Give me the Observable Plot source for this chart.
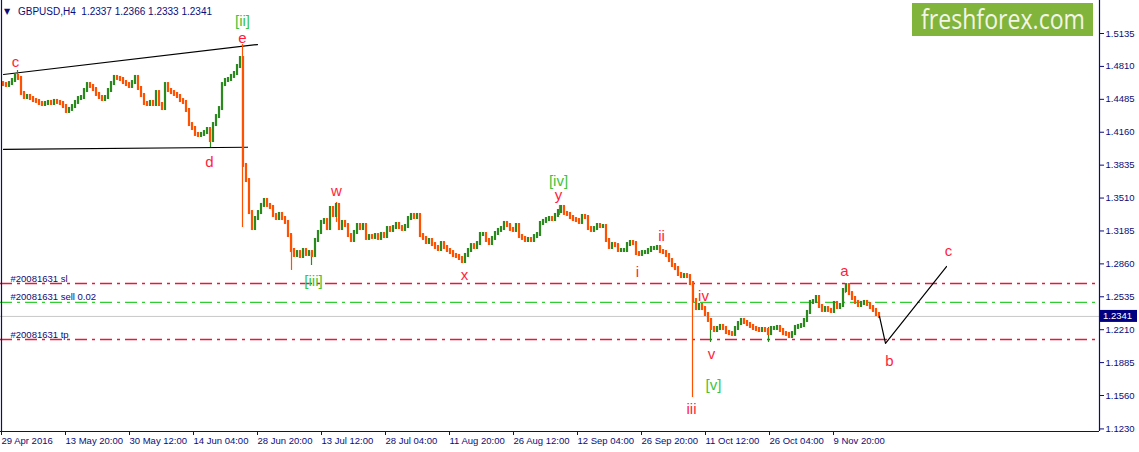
<!DOCTYPE html>
<html><head><meta charset="utf-8">
<script src="https://cdn.jsdelivr.net/npm/d3@7"></script>
<script src="https://cdn.jsdelivr.net/npm/@observablehq/plot@0.6"></script>
<style>
body{margin:0;background:#fff;}
#chart{position:relative;width:1139px;height:452px;overflow:hidden;}
</style></head><body><div id="chart"></div>
<script>
// ---- data ----
const symbol = "GBPUSD,H4";
const ohlcHeader = [1.2337, 1.2366, 1.2333, 1.2341];
const firstBar = 1, barStep = 3;           // each value = one slot of 3 H4 bars
const firstOpen = 1.4641;
const closes = [
 1.4631,1.4622,1.4641,1.4671,1.4711,1.4691,1.4543,1.4503,1.4513,1.4493,1.4473,1.4464,1.4444,1.4434,1.4444,1.4454,1.4444,1.4464,1.4454,1.4444,
 1.4414,1.4365,1.4385,1.4414,1.4454,1.4493,1.4503,1.4572,1.4631,1.4612,1.4582,1.4533,1.4503,1.4483,1.4503,1.4572,1.4641,1.4701,1.4691,1.4681,
 1.4651,1.4631,1.4612,1.4651,1.4701,1.4592,1.4523,1.4444,1.4434,1.4454,1.4434,1.4552,1.4434,1.4394,1.4631,1.4572,1.4552,1.4533,1.4513,1.4473,
 1.4454,1.4375,1.4236,1.4197,1.4138,1.4128,1.4138,1.4157,1.4187,1.4078,1.4236,1.4315,1.4394,1.4631,1.4671,1.4681,1.4711,1.4740,1.4809,1.4888,
 1.3832,1.3683,1.3367,
 1.3209,1.3308,1.3367,1.3437,1.3486,1.3437,1.3417,1.3338,1.3308,1.3348,1.3308,1.3269,1.3140,1.2992,1.2943,1.2972,1.2933,1.2992,1.2953,1.2972,
 1.2943,1.3091,1.3170,1.3269,1.3288,1.3209,1.3407,1.3338,1.3437,1.3209,1.3269,1.3239,1.3140,1.3091,1.3170,1.3239,1.3209,1.3239,1.3111,1.3130,
 1.3121,1.3140,1.3111,1.3150,1.3130,1.3209,1.3190,1.3219,1.3249,1.3219,1.3200,1.3229,1.3308,1.3338,1.3318,1.3338,1.3140,1.3111,1.3071,1.3091,
 1.3051,1.3022,1.3002,1.3061,1.3022,1.2992,1.2972,1.2943,1.2933,1.2913,1.2883,1.2943,1.2992,1.3041,1.3022,1.3061,1.3150,1.3150,1.3091,1.3061,
 1.3111,1.3160,1.3190,1.3209,1.3259,1.3239,1.3200,1.3190,1.3239,1.3130,1.3111,1.3091,1.3101,1.3091,1.3130,1.3150,1.3259,1.3279,1.3298,1.3308,
 1.3298,1.3338,1.3377,1.3417,1.3358,1.3348,1.3318,1.3298,1.3288,1.3269,1.3328,1.3318,1.3209,1.3190,1.3209,1.3239,1.3229,1.3229,1.3091,1.3022,
 1.3051,1.3041,1.2992,1.2992,1.2992,1.3051,1.3071,1.3061,1.2962,1.2953,1.2972,1.2972,1.2992,1.3012,1.3012,1.3022,1.2982,1.2972,1.2943,1.2893,
 1.2844,1.2814,1.2755,1.2735,1.2745,1.2735,1.2666,1.2498,
 1.2419,1.2449,1.2419,1.2360,1.2301,1.2222,1.2202,1.2222,1.2242,1.2222,1.2182,1.2172,1.2163,1.2222,1.2271,1.2301,1.2281,1.2261,1.2242,1.2222,
 1.2212,1.2202,1.2212,1.2202,1.2172,1.2222,1.2222,1.2232,1.2202,1.2172,1.2163,1.2143,1.2172,1.2232,1.2242,1.2251,1.2301,1.2380,1.2479,1.2488,
 1.2528,1.2439,1.2400,1.2419,1.2400,1.2390,1.2469,1.2429,1.2449,1.2597,1.2646,1.2567,1.2518,1.2479,1.2449,1.2469,1.2479,1.2459,1.2429,1.2400,
 1.2360,1.2341
];
// notable wicks (bar index, high, low, up-bar?)
const wickBars  = [15, 208, 240, 289, 309, 334, 557, 690, 708, 766, 843];
const wickHighs = [1.4770, 1.4187, 1.5026, 1.3140, 1.2972, 1.3466, 1.3437, 1.2666, 1.2281, 1.2232, 1.2666];
const wickLows  = [1.4691, 1.4009, 1.3219, 1.2795, 1.2844, 1.3269, 1.3338, 1.1540, 1.2084, 1.2084, 1.2567];
const wickUp    = [true, true, false, false, true, false, false, false, true, true, false];

const yTicks = [1.1230,1.1560,1.1885,1.2210,1.2535,1.2860,1.3185,1.3510,1.3835,1.4160,1.4485,1.4810,1.5135];
const xTickBars = [-2,62,126,190,254,318,382,446,510,574,638,702,766,830];
const xTickLabels = ["29 Apr 2016","13 May 20:00","30 May 12:00","14 Jun 04:00","28 Jun 20:00","13 Jul 12:00","28 Jul 04:00",
  "11 Aug 20:00","26 Aug 12:00","12 Sep 04:00","26 Sep 20:00","11 Oct 12:00","26 Oct 04:00","9 Nov 20:00"];

const levelNames  = ["#20081631 sl", "#20081631 sell 0.02", "#20081631 tp"];
const levelPrices = [1.2666, 1.2479, 1.2113];
const levelKinds  = ["stop", "entry", "stop"];
const currentPrice = 1.2341;

const upperTrendBars = [1, 255],  upperTrendPrices = [1.4730, 1.5026];
const lowerTrendBars = [1, 245],  lowerTrendPrices = [1.3990, 1.4012];
const pathBars = [877, 883, 944], pathPrices = [1.2341, 1.2074, 1.2834];

const waveTexts  = ["c","[ii]","e","d","w","[iii]","x","[iv]","y","ii","i","iv","v","[v]","iii","a","b","c"];
const waveBars   = [13, 240, 240, 207, 334, 311, 462, 556, 556, 659, 635, 701, 709, 711, 689, 842, 887, 946];
const wavePrices = [1.4809,1.5214,1.5046,1.3812,1.3535,1.2637,1.2696,1.3634,1.3486,1.3081,1.2735,1.2498,1.1916,1.1619,1.1382,1.2745,1.1847,1.2933];
const waveMajor  = [false,true,false,false,false,true,false,true,false,false,false,false,false,true,false,false,false,false];

// ---- derived tables ----
const bars = closes.map((c, i) => ({b: firstBar + barStep * i, o: i ? closes[i - 1] : firstOpen, c}));
const wicks = wickBars.map((b, i) => ({b, hi: wickHighs[i], lo: wickLows[i], up: wickUp[i]}));
const levels = levelNames.map((name, i) => ({name, price: levelPrices[i], kind: levelKinds[i]}));
const waves = waveTexts.map((t, i) => ({t, b: waveBars[i], p: wavePrices[i], major: waveMajor[i]}));
const labelMap = new Map(xTickBars.map((b, i) => [b, xTickLabels[i]]));

const UP = "#2a8a1e", DOWN = "#ff5200", NAVY = "#0c0c78", RED = "#e8173f", LIME = "#32cd32";
const yMin = 1.12046, yMax = 1.5461, xMin = -2, xMax = 1097;
const F = "Liberation Sans, Arial, sans-serif";
const dash = "12,5,3,5";

const plot = Plot.plot({
  width: 1139, height: 452,
  marginLeft: 0, marginRight: 40, marginTop: 0, marginBottom: 21,
  style: {fontFamily: F, color: NAVY, background: "#fff", overflow: "visible"},
  x: {domain: [xMin, xMax], axis: null, label: null},
  y: {domain: [yMin, yMax], axis: null, label: null},
  marks: [
    // order levels
    Plot.ruleY([currentPrice], {stroke: "#c8c8c8", strokeWidth: 1}),
    Plot.ruleY(levels.filter(d => d.kind === "stop"), {y: "price", stroke: RED, strokeWidth: 1.3, strokeDasharray: dash}),
    Plot.ruleY(levels.filter(d => d.kind === "entry"), {y: "price", stroke: LIME, strokeWidth: 1.3, strokeDasharray: dash}),
    Plot.text(levels, {x: 8, y: "price", text: "name", textAnchor: "start", lineAnchor: "bottom", dy: -2, fill: NAVY, fontSize: 9.5}),
    // trend lines
    Plot.line(upperTrendBars, {x: d => d, y: (d, i) => upperTrendPrices[i], stroke: "#000", strokeWidth: 1.2}),
    Plot.line(lowerTrendBars, {x: d => d, y: (d, i) => lowerTrendPrices[i], stroke: "#000", strokeWidth: 1.2}),
    // wicks
    Plot.ruleX(wicks.filter(d => d.up), {x: "b", y1: "lo", y2: "hi", stroke: UP, strokeWidth: 1.2}),
    Plot.ruleX(wicks.filter(d => !d.up), {x: "b", y1: "lo", y2: "hi", stroke: DOWN, strokeWidth: 1.2}),
    // bars
    Plot.rect(bars.filter(d => d.c >= d.o), {x1: d => d.b - 1.1, x2: d => d.b + 1.1, y1: "o", y2: "c", fill: UP, insetTop: -2, insetBottom: -2}),
    Plot.rect(bars.filter(d => d.c < d.o), {x1: d => d.b - 1.1, x2: d => d.b + 1.1, y1: "o", y2: "c", fill: DOWN, insetTop: -2, insetBottom: -2}),
    // projected path
    Plot.line(pathBars, {x: d => d, y: (d, i) => pathPrices[i], stroke: "#000", strokeWidth: 1.2}),
    // wave labels
    Plot.text(waves.filter(d => d.major), {x: "b", y: "p", text: "t", lineAnchor: "bottom", fontSize: 15, fill: "#3cc43c"}),
    Plot.text(waves.filter(d => !d.major), {x: "b", y: "p", text: "t", lineAnchor: "bottom", fontSize: 15, fill: "#ff1e3c"}),
    // frame
    Plot.ruleX([xMin + 1], {y1: yMin, y2: yMax, stroke: NAVY, strokeWidth: 1.2}),
    Plot.ruleX([xMax], {y1: yMin, y2: yMax, stroke: NAVY, strokeWidth: 1.2}),
    Plot.ruleY([yMin], {x1: xMin, x2: xMax, stroke: NAVY, strokeWidth: 1.2}),
    // axes
    Plot.axisY(yTicks, {anchor: "right", label: null, tickFormat: d => d.toFixed(4), tickSize: 4, tickPadding: 2, fontSize: 9.5, stroke: NAVY}),
    Plot.axisX(xTickBars, {anchor: "bottom", label: null, tickFormat: d => labelMap.get(d), textAnchor: "start", dx: 1, tickSize: 4, tickPadding: 2, fontSize: 9.5, stroke: NAVY})
  ]
});
document.getElementById("chart").appendChild(plot);

// overlays: header, logo, current price box
const svg = d3.select(plot);
const ys = plot.scale("y");
const cy = ys.apply(currentPrice);
const g = svg.append("g").attr("text-anchor", "start").attr("font-family", F);
g.append("rect").attr("x", 1100).attr("y", cy - 6).attr("width", 37).attr("height", 12).attr("fill", "#000080");
g.append("text").attr("x", 1103).attr("y", cy + 3.5).attr("fill", "#fff").attr("font-size", 9.5).text(currentPrice.toFixed(4));

g.append("text").attr("x", 4).attr("y", 14).attr("fill", NAVY).attr("font-size", 8).attr("font-family", "DejaVu Sans").text("▼");
g.append("text").attr("x", 18).attr("y", 15).attr("fill", NAVY).attr("font-size", 10)
  .text(symbol + "  " + ohlcHeader.map(v => v.toFixed(4)).join(" "));

g.append("rect").attr("x", 912).attr("y", 3).attr("width", 181).attr("height", 33).attr("fill", "#80b43a");
g.append("text").attr("transform", "translate(921,29) scale(1,1.18)").attr("fill", "#f4f4e8").attr("font-size", 23)
  .attr("font-family", "Open Sans, sans-serif")
  .attr("textLength", 164).attr("lengthAdjust", "spacingAndGlyphs").text("freshforex.com");
</script></body></html>
